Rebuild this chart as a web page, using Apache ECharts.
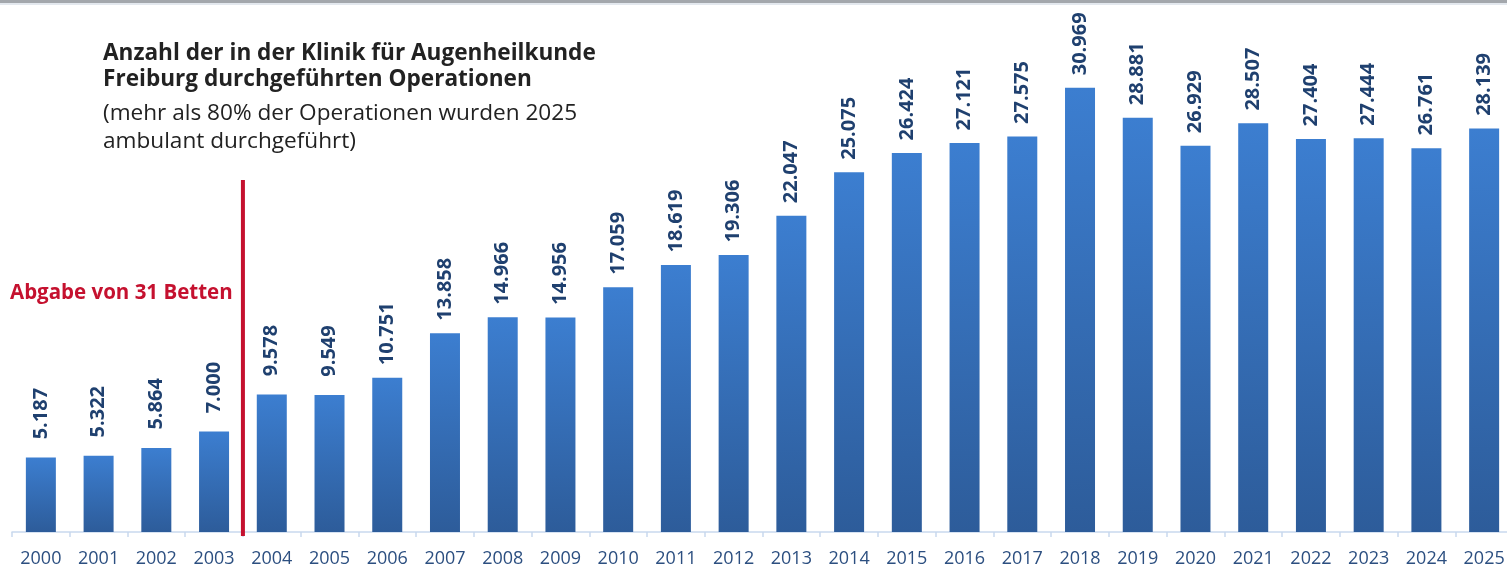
<!DOCTYPE html>
<html><head><meta charset="utf-8">
<script src="https://cdn.jsdelivr.net/npm/echarts@6/dist/echarts.min.js"></script>
<style>html,body{margin:0;padding:0;background:#fff}#c{width:1507px;height:570px}</style>
</head><body><div id="c"></div>
<script>
const years = ['2000','2001','2002','2003','2004','2005','2006','2007','2008','2009','2010','2011','2012','2013','2014','2015','2016','2017','2018','2019','2020','2021','2022','2023','2024','2025'];
const operations = [5187,5322,5864,7000,9578,9549,10751,13858,14966,14956,17059,18619,19306,22047,25075,26424,27121,27575,30969,28881,26929,28507,27404,27444,26761,28139];
const titleLines = ['Anzahl der in der Klinik für Augenheilkunde','Freiburg durchgeführten Operationen'];
const subtitleLines = ['(mehr als 80% der Operationen wurden 2025','ambulant durchgeführt)'];
const noteText = 'Abgabe von 31 Betten';
const markerBetween = ['2003','2004'];

const chart = echarts.init(document.getElementById('c'));
const fmt = v => { const s = String(v); return s.length > 3 ? s.slice(0, s.length-3) + '.' + s.slice(-3) : s; };
const FONT = '"Open Sans", "Noto Sans", sans-serif';
chart.setOption({
  animation: false,
  grid: { left: 12, width: 1501, top: 30, bottom: 38, containLabel: false, outerBoundsMode: 'none' },
  xAxis: {
    type: 'category', data: years,
    axisLine: { lineStyle: { color: '#C9D9EE', width: 1.5 } },
    axisTick: { show: true, length: 5, lineStyle: { color: '#C9D9EE', width: 1.5 } },
    axisLabel: { color: '#2C4F80', fontSize: 18, fontFamily: FONT, margin: 18 }
  },
  yAxis: { type: 'value', min: 0, max: 35000, show: false, splitLine: { show: false } },
  series: [{
    type: 'bar', data: operations, barWidth: 30,
    itemStyle: { color: new echarts.graphic.LinearGradient(0,0,0,1,[{offset:0,color:'#3C7ED0'},{offset:1,color:'#2D5C9A'}]) },
    label: {
      show: true, position: 'top', rotate: 90, distance: 44,
      align: 'center', verticalAlign: 'middle',
      formatter: p => fmt(p.value),
      color: '#1F406F', fontSize: 20, fontWeight: 'bold', fontFamily: FONT
    }
  }]
});
const x0 = chart.convertToPixel({xAxisIndex:0}, markerBetween[0]);
const x1 = chart.convertToPixel({xAxisIndex:0}, markerBetween[1]);
const xm = (x0 + x1) / 2;
const yb = chart.convertToPixel({yAxisIndex:0}, 0);
chart.setOption({ graphic: [
  { type: 'rect', left: 0, top: 0, shape: { width: 1507, height: 3 }, style: { fill: '#A3A7AC' } },
  { type: 'rect', left: 0, top: 3, shape: { width: 1507, height: 2 }, style: { fill: '#E3E8EE' } },
  { type: 'text', left: 103, top: 41, style: { text: titleLines.join('\n'), font: 'bold 22.6px ' + FONT, fill: '#222', lineHeight: 26 } },
  { type: 'text', left: 103, top: 100, style: { text: subtitleLines.join('\n'), font: '22.6px ' + FONT, fill: '#222', lineHeight: 28 } },
  { type: 'text', left: 10, top: 283, style: { text: noteText, font: 'bold 20.5px ' + FONT, fill: '#C5112F' } },
  { type: 'rect', shape: { x: xm - 2, y: 180, width: 4, height: yb + 4 - 180 }, style: { fill: '#C5112F' }, z: 10 }
]});
</script></body></html>
